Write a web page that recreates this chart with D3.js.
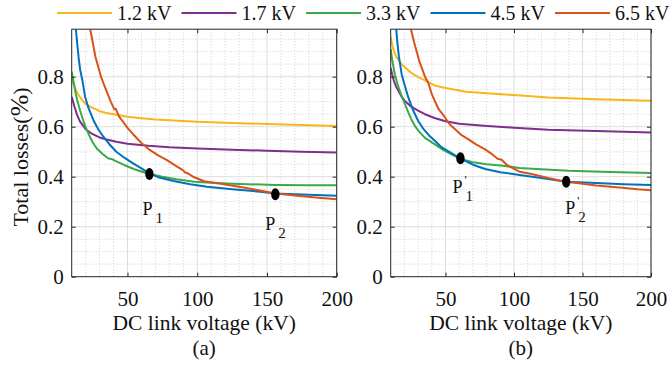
<!DOCTYPE html>
<html>
<head>
<meta charset="utf-8">
<script src="https://cdn.jsdelivr.net/npm/d3@7"></script>
<style>
  body { margin: 0; background: #fff; }
  svg { display: block; }
  svg text { font-family: 'Liberation Serif', 'Times New Roman', Times, 'DejaVu Serif', serif; }
</style>
</head>
<body>
<div id="chart"></div>
<script>
// series names (legend order)
const seriesNames = ["1.2 kV", "1.7 kV", "3.3 kV", "4.5 kV", "6.5 kV"];

// axis ticks
const xTicks = [50, 100, 150, 200];
const yTicks = [0, 0.2, 0.4, 0.6, 0.8];

// panel (a): [DC link voltage kV, total losses %]
const a12 = [[10,0.79],[12,0.76],[14,0.735],[16,0.718],[18,0.703],[20,0.69],[22,0.684],[25,0.675],[28,0.668],[30,0.662],[35,0.655],[42,0.648],[50,0.64],[60,0.634],[70,0.629],[80,0.626],[100,0.62],[125,0.615],[150,0.611],[175,0.607],[200,0.603]];
const a17 = [[10,0.72],[11,0.7],[12,0.68],[14,0.645],[16,0.62],[18,0.605],[20,0.59],[25,0.57],[30,0.557],[35,0.549],[42,0.54],[50,0.532],[65,0.524],[80,0.518],[100,0.513],[125,0.508],[150,0.504],[175,0.5],[200,0.497]];
const a33 = [[10,0.82],[11,0.79],[12,0.76],[13,0.73],[14,0.705],[16,0.665],[18,0.63],[20,0.597],[23,0.56],[25,0.538],[28,0.513],[32,0.492],[36,0.474],[39,0.47],[42,0.461],[48,0.446],[55,0.43],[65,0.412],[75,0.4],[85,0.39],[98,0.38],[110,0.376],[130,0.371],[156,0.367],[180,0.366],[200,0.366]];
const a45 = [[13,0.99],[14,0.93],[15,0.875],[16,0.83],[17.5,0.79],[19.6,0.72],[22,0.675],[25.5,0.627],[29,0.59],[32.7,0.56],[37,0.53],[42,0.5],[48,0.475],[54,0.453],[60,0.433],[66,0.412],[72,0.398],[83,0.383],[95,0.37],[107,0.36],[125,0.35],[145,0.34],[156,0.333],[175,0.329],[200,0.324]];
const a65 = [[23.3,0.99],[25,0.94],[27,0.88],[29,0.84],[31,0.8],[33,0.77],[35.5,0.735],[38,0.7],[40.5,0.67],[41.5,0.672],[44,0.64],[47,0.618],[50,0.595],[54,0.57],[60,0.535],[66,0.507],[72,0.485],[78,0.467],[85,0.442],[90,0.425],[91,0.418],[93,0.414],[97,0.4],[105,0.382],[117,0.372],[130,0.36],[145,0.345],[156,0.333],[170,0.325],[185,0.317],[200,0.31]];

// panel (b)
const b12 = [[10,0.96],[11,0.93],[12.5,0.9],[14,0.88],[16,0.865],[18,0.85],[20,0.84],[25,0.815],[30,0.798],[35,0.785],[42,0.765],[50,0.755],[65,0.74],[85,0.732],[105,0.725],[125,0.717],[160,0.71],[200,0.704]];
const b17 = [[10,0.835],[11,0.81],[12.5,0.78],[14,0.76],[16,0.74],[18,0.72],[20,0.705],[25,0.68],[30,0.664],[35,0.65],[42,0.635],[50,0.622],[60,0.612],[78,0.604],[100,0.596],[125,0.588],[160,0.583],[200,0.577]];
const b33 = [[10,0.91],[11,0.87],[12,0.84],[13,0.81],[15,0.77],[17.5,0.73],[20,0.695],[23,0.655],[25,0.63],[28,0.6],[30,0.585],[35,0.555],[42,0.53],[48,0.508],[54,0.49],[61,0.471],[70,0.458],[80,0.45],[92,0.444],[104,0.435],[120,0.43],[140,0.424],[170,0.419],[200,0.415]];
const b45 = [[14,0.99],[15,0.93],[16,0.88],[17,0.845],[18,0.81],[20,0.77],[22.8,0.718],[26,0.67],[30,0.624],[34,0.59],[38,0.565],[43,0.54],[47,0.518],[54,0.495],[61,0.472],[70,0.448],[79,0.431],[90,0.418],[104,0.407],[120,0.395],[138,0.38],[160,0.375],[180,0.37],[200,0.367]];
const b65 = [[24.8,0.99],[27,0.94],[29,0.9],[31,0.86],[33,0.83],[35,0.8],[37.5,0.775],[40,0.73],[42,0.705],[45,0.67],[49,0.642],[53,0.61],[57,0.59],[62,0.565],[66.5,0.55],[72,0.53],[78.6,0.51],[84,0.49],[88,0.472],[91,0.468],[95,0.446],[104,0.42],[112,0.412],[125,0.395],[138,0.38],[150,0.372],[160,0.365],[177,0.357],[190,0.35],[200,0.346]];

// marked operating points
const pointsA = [{sub: "1", prime: false, x: 65.7, y: 0.411}, {sub: "2", prime: false, x: 156, y: 0.33}];
const pointsB = [{sub: "1", prime: true, x: 60.9, y: 0.474}, {sub: "2", prime: true, x: 138.1, y: 0.38}];

const colors = ["#f9b61c", "#7e2f8e", "#3aa948", "#0072bd", "#d95319"];
const serif = "'Liberation Serif', 'Times New Roman', Times, 'DejaVu Serif', serif";
const W = 669, H = 367;
const plotTop = 29.2, plotBottom = 276.7;

const svg = d3.select("#chart").append("svg")
    .attr("width", W).attr("height", H)
    .attr("viewBox", `0 0 ${W} ${H}`)
    .attr("font-family", serif);

// legend
const legendX = d3.scaleLinear().domain([0, 4]).range([57, 555]);
const legend = svg.append("g");
seriesNames.forEach((name, i) => {
    const lx = legendX(i);
    legend.append("line")
        .attr("x1", lx).attr("x2", lx + 55).attr("y1", 13).attr("y2", 13)
        .attr("stroke", colors[i]).attr("stroke-width", 2);
    legend.append("text")
        .attr("x", lx + 60).attr("y", 20)
        .attr("font-size", 20).attr("fill", "#111")
        .text(name);
});

function drawPanel(id, left, right, series, points, labelOffsets, caption) {
    const x = d3.scaleLinear().domain([10, 200]).range([left, right]);
    const y = d3.scaleLinear().domain([0, 0.99]).range([plotBottom, plotTop]);
    const g = svg.append("g");

    // minor grid (dotted)
    const minorX = d3.range(20, 200, 10).filter(v => v % 50 !== 0);
    const minorY = d3.range(0.05, 0.99, 0.05).filter(v => Math.abs(v / 0.2 - Math.round(v / 0.2)) > 0.01);
    g.selectAll(".mx").data(minorX).join("line")
        .attr("x1", d => x(d)).attr("x2", d => x(d))
        .attr("y1", plotTop).attr("y2", plotBottom)
        .attr("stroke", "#c4c4c4").attr("stroke-width", 0.8).attr("stroke-dasharray", "1,2");
    g.selectAll(".my").data(minorY).join("line")
        .attr("x1", left).attr("x2", right)
        .attr("y1", d => y(d)).attr("y2", d => y(d))
        .attr("stroke", "#c4c4c4").attr("stroke-width", 0.8).attr("stroke-dasharray", "1,2");

    // major grid
    g.selectAll(".gx").data(xTicks).join("line")
        .attr("x1", d => x(d)).attr("x2", d => x(d))
        .attr("y1", plotTop).attr("y2", plotBottom)
        .attr("stroke", "#dedede").attr("stroke-width", 1);
    g.selectAll(".gy").data(yTicks.filter(v => v > 0)).join("line")
        .attr("x1", left).attr("x2", right)
        .attr("y1", d => y(d)).attr("y2", d => y(d))
        .attr("stroke", "#dedede").attr("stroke-width", 1);

    // clip
    svg.append("clipPath").attr("id", "clip-" + id)
        .append("rect").attr("x", left).attr("y", plotTop)
        .attr("width", right - left).attr("height", plotBottom - plotTop);

    const line = d3.line().x(d => x(d[0])).y(d => y(d[1]));
    g.append("g").attr("clip-path", `url(#clip-${id})`)
        .selectAll("path").data(series).join("path")
        .attr("d", line)
        .attr("fill", "none")
        .attr("stroke", (d, i) => colors[i])
        .attr("stroke-width", 2)
        .attr("stroke-linejoin", "round");

    // axes with inward ticks
    const axColor = "#262626";
    const xAxis = g.append("g").attr("transform", `translate(0,${plotBottom})`)
        .call(d3.axisBottom(x).tickValues(xTicks).tickSize(-4).tickSizeOuter(0).tickPadding(14));
    const yAxis = g.append("g").attr("transform", `translate(${left},0)`)
        .call(d3.axisLeft(y).tickValues(yTicks).tickSize(-4).tickSizeOuter(0).tickPadding(8)
            .tickFormat(d => d === 0 ? "0" : d3.format(".1f")(d)));
    const xTop = g.append("g").attr("transform", `translate(0,${plotTop})`)
        .call(d3.axisTop(x).tickValues(xTicks).tickSize(-4).tickSizeOuter(0).tickFormat(""));
    const yRight = g.append("g").attr("transform", `translate(${right},0)`)
        .call(d3.axisRight(y).tickValues(yTicks).tickSize(-4).tickSizeOuter(0).tickFormat(""));
    [xAxis, yAxis, xTop, yRight].forEach(a => {
        a.attr("font-family", serif).attr("font-size", 21);
        a.select(".domain").remove();
        a.selectAll(".tick line").attr("stroke", axColor);
        a.selectAll(".tick text").attr("fill", "#111");
    });

    g.append("rect")
        .attr("x", left).attr("y", plotTop)
        .attr("width", right - left).attr("height", plotBottom - plotTop)
        .attr("fill", "none").attr("stroke", axColor).attr("stroke-width", 1);

    // operating points
    g.selectAll(".pt").data(points).join("ellipse")
        .attr("cx", d => x(d.x)).attr("cy", d => y(d.y))
        .attr("rx", 4.2).attr("ry", 6).attr("fill", "#000");

    points.forEach((p, i) => {
        const px = x(p.x) + labelOffsets[i][0];
        const py = y(p.y) + labelOffsets[i][1];
        g.append("text").attr("x", px).attr("y", py)
            .attr("font-size", 18).attr("fill", "#111").text("P");
        g.append("text").attr("x", px + 13).attr("y", py + 8)
            .attr("font-size", 15).attr("fill", "#111").text(p.sub);
        if (p.prime) {
            g.append("text").attr("x", px + 12).attr("y", py - 9)
                .attr("font-size", 12).attr("fill", "#111").text("'");
        }
    });

    // x label + caption
    const cx = (left + right) / 2;
    g.append("text").attr("x", cx).attr("y", 330)
        .attr("text-anchor", "middle").attr("font-size", 21.5).attr("fill", "#111")
        .text("DC link voltage (kV)");
    g.append("text").attr("x", cx).attr("y", 355)
        .attr("text-anchor", "middle").attr("font-size", 21).attr("fill", "#111")
        .text(caption);
}

drawPanel("a", 71.7, 336.7, [a12, a17, a33, a45, a65], pointsA, [[-7, 41], [-10, 36]], "(a)");
drawPanel("b", 390.7, 651, [b12, b17, b33, b45, b65], pointsB, [[-8, 35], [-1, 32]], "(b)");

// y label
const yl = svg.append("text")
    .attr("transform", `translate(28,${(plotTop + plotBottom) / 2 + 4}) rotate(-90)`)
    .attr("text-anchor", "middle").attr("font-size", 22).attr("fill", "#111");
yl.append("tspan").text("Total losses(");
yl.append("tspan").attr("font-size", 26).text("%");
yl.append("tspan").text(")");
</script>
</body>
</html>
